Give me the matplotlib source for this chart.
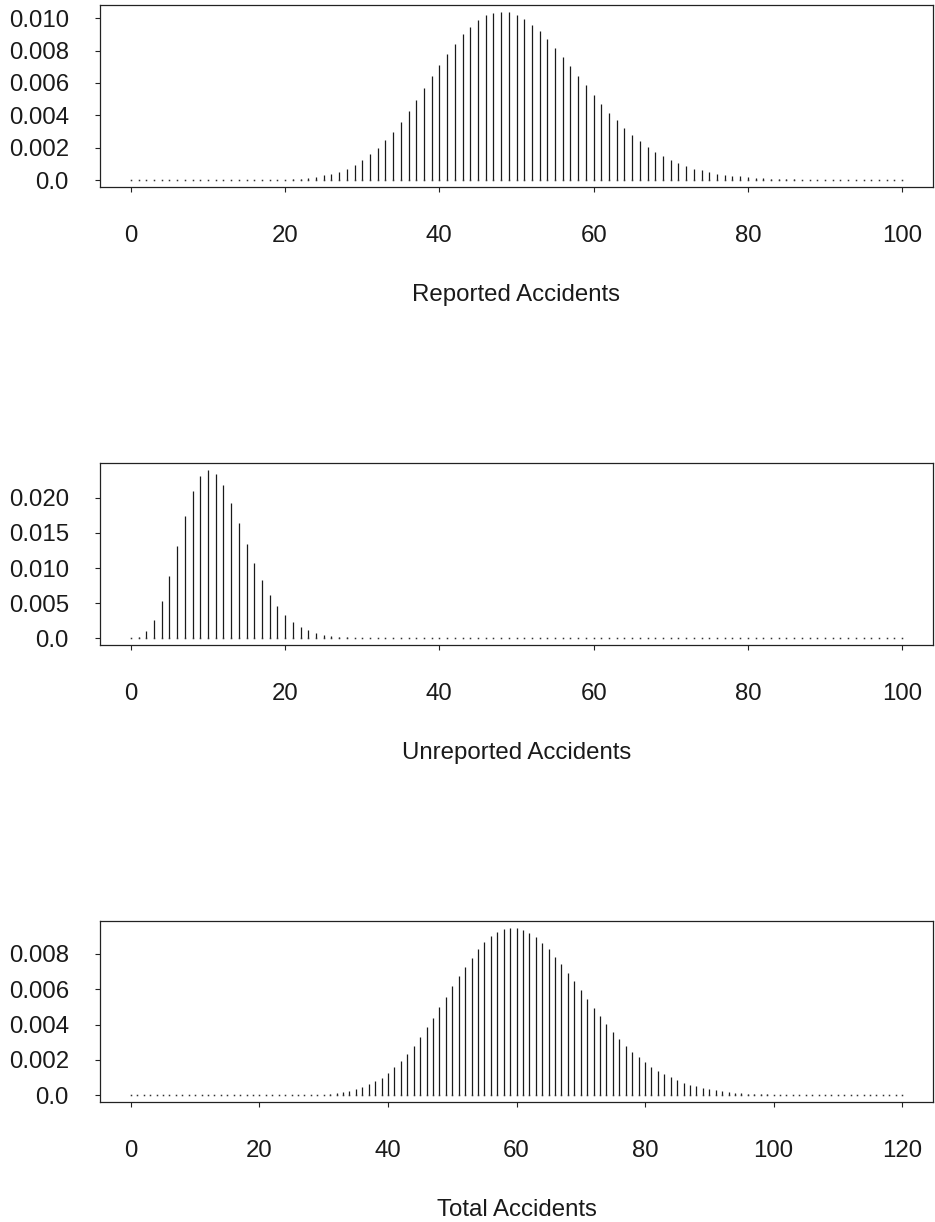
import matplotlib
matplotlib.use("Agg")
import matplotlib.pyplot as plt
import numpy as np

plt.rcParams['font.family'] = ['Liberation Sans', 'DejaVu Sans']

# ---------------- data ----------------
reported_x = list(range(0, 101))
reported_p = [
    0, 0, 0, 0, 0, 0, 0, 0, 0, 0,
    0, 0, 0, 0, 0, 0, 0, 0, 0.00001, 0.00002,
    0.00003, 0.00005, 0.00008, 0.00012, 0.0002, 0.0003, 0.0004, 0.0005, 0.0007, 0.00095,
    0.00124, 0.0016, 0.0020, 0.00247, 0.0030, 0.0036, 0.00427, 0.00497, 0.00567, 0.0064,
    0.0071, 0.0078, 0.00843, 0.0090, 0.00948, 0.0099, 0.01016, 0.0103, 0.01039, 0.01035,
    0.0102, 0.00996, 0.0096, 0.0092, 0.00872, 0.00816, 0.0076, 0.00703, 0.00643, 0.00586,
    0.00526, 0.0047, 0.00416, 0.00371, 0.00322, 0.00278, 0.00241, 0.00208, 0.00175, 0.00148,
    0.00126, 0.00107, 0.00089, 0.00072, 0.00062, 0.00052, 0.00041, 0.00035, 0.00029, 0.00025,
    0.0002, 0.00016, 0.00013, 0.0001, 0.00008, 0.00006, 0.00005, 0.00004, 0.00003, 0.00002,
    0.00002, 0.00001, 0.00001, 0, 0, 0, 0, 0, 0, 0,
    0,
]

unreported_x = list(range(0, 101))
unreported_p = [
    0.0001, 0.00024, 0.001, 0.00257, 0.00527, 0.00888, 0.01316, 0.01734, 0.0209, 0.02313,
    0.02399, 0.02337, 0.02176, 0.01924, 0.01634, 0.01344, 0.01074, 0.00831, 0.00622, 0.00461,
    0.00333, 0.00238, 0.00162, 0.00114, 0.00076, 0.00052, 0.00033, 0.0002, 0.00012, 0.00007,
    0.00004, 0.00002, 0.00001, 0, 0, 0, 0, 0, 0, 0,
    0, 0, 0, 0, 0, 0, 0, 0, 0, 0,
    0, 0, 0, 0, 0, 0, 0, 0, 0, 0,
    0, 0, 0, 0, 0, 0, 0, 0, 0, 0,
    0, 0, 0, 0, 0, 0, 0, 0, 0, 0,
    0, 0, 0, 0, 0, 0, 0, 0, 0, 0,
    0, 0, 0, 0, 0, 0, 0, 0, 0, 0,
    0,
]

total_x = list(range(0, 121))
total_p = [
    0, 0, 0, 0, 0, 0, 0, 0, 0, 0,
    0, 0, 0, 0, 0, 0, 0, 0, 0, 0,
    0, 0, 0, 0, 0, 0.00001, 0.00001, 0.00002, 0.00002, 0.00003,
    0.00004, 0.0001, 0.00013, 0.00019, 0.00024, 0.00036, 0.00045, 0.00064, 0.00079, 0.00099,
    0.00127, 0.00159, 0.00195, 0.00234, 0.00279, 0.0033, 0.00384, 0.00438, 0.00498, 0.00556,
    0.00616, 0.00672, 0.00728, 0.00779, 0.00826, 0.00865, 0.00899, 0.00923, 0.00938, 0.00948,
    0.00946, 0.00935, 0.00918, 0.00893, 0.00861, 0.00826, 0.00783, 0.0074, 0.00691, 0.00644,
    0.00594, 0.00543, 0.00494, 0.00448, 0.00403, 0.00358, 0.00318, 0.00281, 0.00247, 0.00217,
    0.00187, 0.00161, 0.00139, 0.00118, 0.00101, 0.00086, 0.00071, 0.0006, 0.00051, 0.00041,
    0.00036, 0.0003, 0.00024, 0.00019, 0.00015, 0.00013, 0.0001, 0.00008, 0.00006, 0.00005,
    0.00004, 0.00003, 0.00002, 0.00002, 0.00001, 0.00001, 0, 0, 0, 0,
    0, 0, 0, 0, 0, 0, 0, 0, 0, 0,
    0,
]

reported_yticks = [0.0, 0.002, 0.004, 0.006, 0.008, 0.010]
reported_ylabels = ["0.0", "0.002", "0.004", "0.006", "0.008", "0.010"]
unreported_yticks = [0.0, 0.005, 0.010, 0.015, 0.020]
unreported_ylabels = ["0.0", "0.005", "0.010", "0.015", "0.020"]
total_yticks = [0.0, 0.002, 0.004, 0.006, 0.008]
total_ylabels = ["0.0", "0.002", "0.004", "0.006", "0.008"]

xticks_100 = [0, 20, 40, 60, 80, 100]
xticks_120 = [0, 20, 40, 60, 80, 100, 120]

titles = ["Reported Accidents", "Unreported Accidents", "Total Accidents"]

# ---------------- figure ----------------
W, H = 935, 1222
fig = plt.figure(figsize=(W / 100, H / 100), dpi=100)

frames = [(5, 187), (463, 645), (921, 1102)]  # top, bottom in px
left_px, right_px = 100, 933

panels = [
    (reported_x, reported_p, reported_yticks, reported_ylabels, xticks_100),
    (unreported_x, unreported_p, unreported_yticks, unreported_ylabels, xticks_100),
    (total_x, total_p, total_yticks, total_ylabels, xticks_120),
]

FS = 17.3
for (top, bot), (xs, ps, yt, yl, xt), title in zip(frames, panels, titles):
    ax = fig.add_axes([left_px / W, 1 - bot / H, (right_px - left_px) / W, (bot - top) / H])
    xs = np.asarray(xs)
    ps = np.asarray(ps)
    ax.vlines(xs, 0, ps, colors='#1a1a1a', linewidth=0.9)
    ax.plot(xs, np.zeros_like(ps), ls='none', marker='s', ms=1.1,
            mec='none', mfc='#333333')
    xmin, xmax = xs.min(), xs.max()
    xr = xmax - xmin
    ymax = ps.max()
    ax.set_xlim(xmin - 0.04 * xr, xmax + 0.04 * xr)
    ax.set_ylim(-0.04 * ymax, ymax * 1.04)
    ax.set_yticks(yt)
    ax.set_yticklabels(yl)
    ax.set_xticks(xt)
    ax.set_xticklabels([str(v) for v in xt])
    for s in ax.spines.values():
        s.set_linewidth(0.9)
        s.set_color('#222222')
    ax.tick_params(axis='y', direction='out', length=3.5, width=0.8,
                   labelsize=FS, pad=19, colors='#222222', labelcolor='#1a1a1a')
    ax.tick_params(axis='x', direction='out', length=3.5, width=0.8,
                   labelsize=FS, pad=24, colors='#222222', labelcolor='#1a1a1a')
    ax.set_xlabel(title, fontsize=FS, color='#1a1a1a')
    ax.xaxis.set_label_coords(0.5, -108 / (bot - top))
    ax.xaxis.label.set_va('center')

fig.savefig("out.png", dpi=100)
